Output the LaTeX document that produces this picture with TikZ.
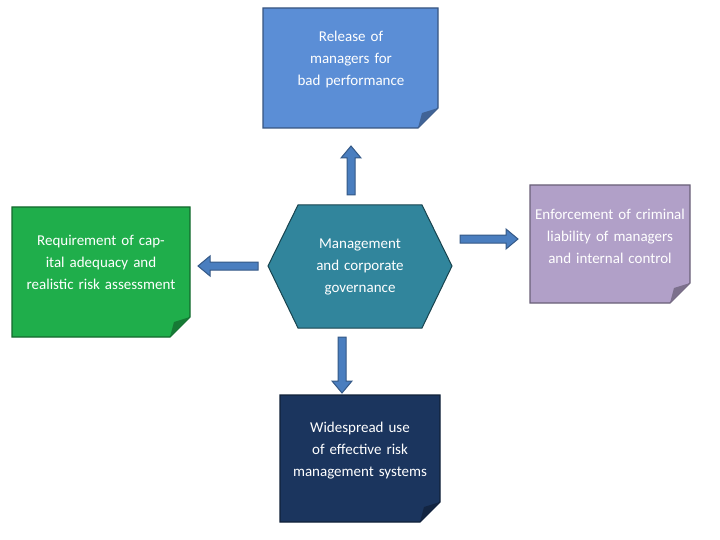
\documentclass[tikz,border=0pt]{standalone}
\usepackage{fontspec}
\setmainfont{Carlito}
\usetikzlibrary{shapes.geometric,arrows.meta}
\definecolor{topc}{HTML}{5B8ED6}
\definecolor{leftc}{HTML}{1FAE4B}
\definecolor{rightc}{HTML}{B1A0C8}
\definecolor{botc}{HTML}{1B355E}
\definecolor{hexc}{HTML}{31859C}
\definecolor{arr}{HTML}{4A7EBF}
\begin{document}
\begin{tikzpicture}[x=1pt,y=-1pt,
  note/.style={font=\fontsize{15}{22}\selectfont,align=center,text width=#1},
  barr/.style={draw=arr!70!black,line width=1pt,fill=arr},
  ]
\useasboundingbox (0,0) rectangle (720,540);
\newcommand\notebox[6]{% name, x1,y1,x2,y2, color
  \fill[#6,draw=#6!60!black,line width=1.2pt] (#2,#3) -- (#4,#3) -- (#4,#5-20) -- (#4-20,#5) -- (#2,#5) -- cycle;
  \fill[#6!70!black] (#4,#5-20) -- (#4-20,#5) -- (#4-16,#5-15) -- cycle;
  \coordinate (#1) at ({(#2+#4)/2},{(#3+#5)/2});
}
\notebox{top}{263}{8}{438}{128}{topc}
\notebox{left}{12}{207}{190}{337}{leftc}
\notebox{right}{530}{185}{690}{303}{rightc}
\notebox{bot}{280}{395}{440}{522}{botc}
\node[regular polygon,regular polygon sides=6,shape border rotate=0,minimum size=0pt] at (0,0) {};
\node (hex) [draw=hexc!60!black,fill=hexc,line width=1pt,inner sep=0,minimum size=0] at (360,266) {};
\fill[hexc,draw=hexc!50!black,line width=1pt] (298,205) -- (422,205) -- (452,266) -- (422,328) -- (298,328) -- (268,266) -- cycle;
\node[note=120pt,text=white] (tt) at (351,60) {Release of managers for bad performance};
\node[note=160pt,text=white] (lt) at (101,262) {Requirement of capital adequacy and realistic risk assessment};
\node[note=150pt,text=white] (rt) at (610,236) {Enforcement of criminal liability of managers and internal control};
\node[note=140pt,text=white] (bt) at (360,451) {Widespread use of effective risk management systems};
\node[note=120pt,text=white] (ht) at (360,267) {Management and corporate governance};
% arrows
\newcommand\varrow[4]{% x, ystart, yend, dir(+1 down/-1 up)
  \filldraw[barr] (#1-4,#2) -- (#1-4,#3-#4*12) -- (#1-10,#3-#4*12) -- (#1,#3) -- (#1+10,#3-#4*12) -- (#1+4,#3-#4*12) -- (#1+4,#2) -- cycle;}
\newcommand\harrow[4]{%
  \filldraw[barr] (#2,#1-4) -- (#3-#4*12,#1-4) -- (#3-#4*12,#1-10) -- (#3,#1) -- (#3-#4*12,#1+10) -- (#3-#4*12,#1+4) -- (#2,#1+4) -- cycle;}
\varrow{351}{195}{146}{-1}
\varrow{342}{337}{393}{1}
\harrow{266}{258}{198}{-1}
\harrow{239}{460}{518}{1}
\end{tikzpicture}
\end{document}
